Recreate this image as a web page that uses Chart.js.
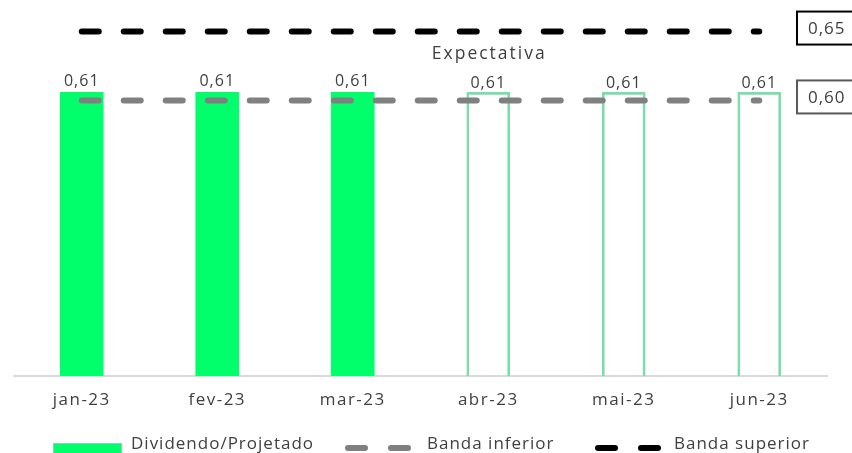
<!DOCTYPE html>
<html>
<head>
<meta charset="utf-8">
<script src="https://cdn.jsdelivr.net/npm/chart.js@4/dist/chart.umd.min.js"></script>
<style>
  html, body { margin: 0; padding: 0; background: #fff; }
  #wrap { width: 852px; height: 453px; }
</style>
</head>
<body>
<div id="wrap"><canvas id="grafico" width="852" height="453"></canvas></div>
<script>
// dados
const meses = ['jan-23', 'fev-23', 'mar-23', 'abr-23', 'mai-23', 'jun-23'];
const dividendo = [0.61, 0.61, 0.61, 0.61, 0.61, 0.61];
const pago = [true, true, true, false, false, false]; // false = projetado
const bandaInferior = [0.60, 0.60, 0.60, 0.60, 0.60, 0.60];
const bandaSuperior = [0.65, 0.65, 0.65, 0.65, 0.65, 0.65];

const verde = '#00FF6A';
const verdeBorda = '#7DDCAB';
const cinza = '#808080';
const texto = '#404040';
const fonte = '"Open Sans", sans-serif';

const fmt = v => v.toFixed(2).replace('.', ',');

const extras = {
    id: 'extras',
    beforeDraw(chart) {
        chart.ctx.letterSpacing = '1.5px';
    },
    afterDatasetsDraw(chart) {
        const ctx = chart.ctx;
        const y2 = chart.scales.y2;
        const x = chart.scales.x;
        ctx.save();
        ctx.letterSpacing = '1px';
        ctx.font = '16px ' + fonte;
        ctx.fillStyle = texto;
        ctx.textAlign = 'center';
        ctx.textBaseline = 'alphabetic';

        // rotulos das barras
        chart.getDatasetMeta(0).data.forEach((bar, i) => {
            ctx.fillText(fmt(dividendo[i]), bar.x, bar.y - (pago[i] ? 6 : 4));
        });

        // Expectativa
        ctx.letterSpacing = '2px';
        ctx.font = '17.5px ' + fonte;
        ctx.fillText('Expectativa', x.getPixelForValue(3) + 1, y2.getPixelForValue(bandaSuperior[0]) + 27);

        // caixas das bandas
        ctx.letterSpacing = '1px';
        ctx.font = '17px ' + fonte;
        ctx.textAlign = 'left';
        ctx.textBaseline = 'middle';
        [[bandaSuperior[0], '#000000'], [bandaInferior[0], '#595959']].forEach(([v, cor]) => {
            const cy = y2.getPixelForValue(v) - 3.5;
            ctx.lineWidth = 2;
            ctx.strokeStyle = cor;
            ctx.strokeRect(797, cy - 16.5, 70, 33);
            ctx.fillStyle = texto;
            ctx.fillText(fmt(v), 808, cy + 1);
        });
        ctx.restore();
    },
    afterDraw(chart) {
        // legenda
        const ctx = chart.ctx;
        const ds = chart.data.datasets;
        ctx.save();
        ctx.letterSpacing = '1px';
        ctx.font = '17px ' + fonte;
        ctx.fillStyle = texto;
        ctx.textBaseline = 'alphabetic';
        ctx.textAlign = 'left';

        ctx.fillStyle = verde;
        ctx.fillRect(53, 443, 69, 12);
        ctx.strokeStyle = verdeBorda;
        ctx.lineWidth = 1;
        ctx.strokeRect(53.5, 443.5, 68, 12);
        ctx.fillStyle = texto;
        ctx.fillText(ds[0].label, 131, 449);

        const tracos = (x0, cor) => {
            ctx.strokeStyle = cor;
            ctx.lineWidth = 6;
            ctx.lineCap = 'round';
            ctx.beginPath();
            ctx.moveTo(x0 + 3, 448); ctx.lineTo(x0 + 20, 448);
            ctx.moveTo(x0 + 46, 448); ctx.lineTo(x0 + 63, 448);
            ctx.stroke();
        };
        tracos(345, cinza);
        ctx.fillText(ds[1].label, 427, 449);
        tracos(595, '#000000');
        ctx.fillText(ds[2].label, 674, 449);
        ctx.restore();
    }
};

new Chart(document.getElementById('grafico'), {
    data: {
        labels: meses,
        datasets: [
            {
                type: 'bar',
                label: 'Dividendo/Projetado',
                data: dividendo,
                backgroundColor: pago.map(p => p ? verde : 'rgba(0,0,0,0)'),
                borderColor: pago.map(p => p ? verde : verdeBorda),
                borderWidth: pago.map(p => p ? 0 : 2),
                barThickness: 43,
                yAxisID: 'y',
                order: 2
            },
            {
                type: 'line',
                label: 'Banda inferior',
                data: bandaInferior,
                borderColor: cinza,
                borderWidth: 6,
                borderDash: [17, 25],
                borderCapStyle: 'round',
                pointRadius: 0,
                yAxisID: 'y2',
                order: 1
            },
            {
                type: 'line',
                label: 'Banda superior',
                data: bandaSuperior,
                borderColor: '#000000',
                borderWidth: 6,
                borderDash: [17, 25],
                borderCapStyle: 'round',
                pointRadius: 0,
                yAxisID: 'y2',
                order: 1
            }
        ]
    },
    options: {
        responsive: false,
        animation: false,
        layout: { padding: { left: 14, right: 25, top: 4, bottom: 28.6 } },
        plugins: {
            legend: { display: false },
            tooltip: { enabled: false }
        },
        scales: {
            x: {
                grid: { display: false, drawTicks: false },
                border: { display: true, color: '#D9D9D9', width: 2 },
                ticks: { color: texto, font: { family: fonte, size: 17 }, padding: 14 }
            },
            y: { display: false, min: 0, max: 0.8 },
            y2: { display: false, min: 0.40, max: 0.67 }
        }
    },
    plugins: [extras]
});
</script>
</body>
</html>
